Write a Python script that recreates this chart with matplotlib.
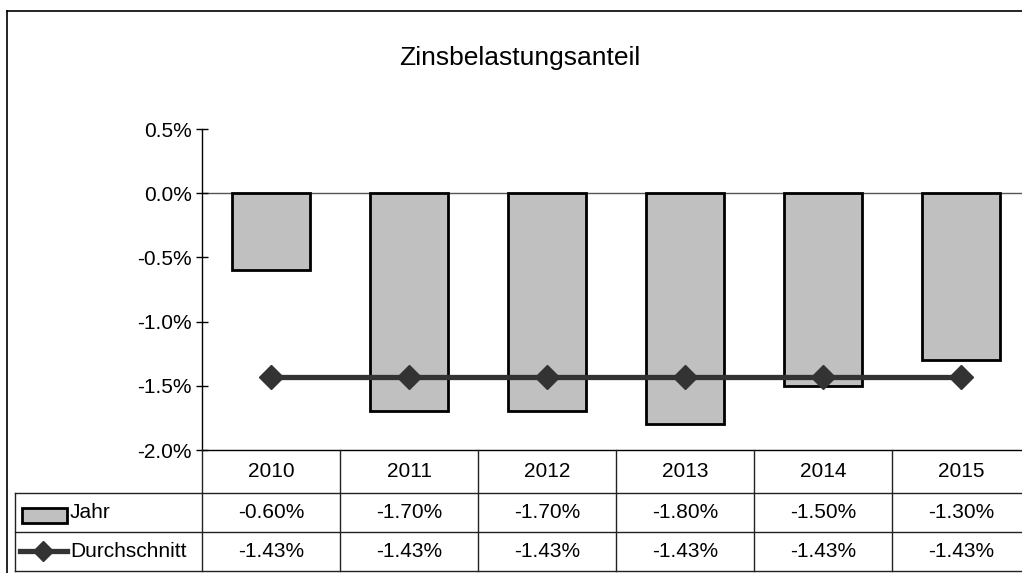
import matplotlib
matplotlib.use("Agg")
import matplotlib.pyplot as plt
from matplotlib.lines import Line2D
from matplotlib.patches import Rectangle
from matplotlib.ticker import FuncFormatter

plt.rcParams["font.family"] = ["Liberation Sans", "DejaVu Sans"]

# Daten
jahre = ["2010", "2011", "2012", "2013", "2014", "2015"]
jahr_werte = [-0.60, -1.70, -1.70, -1.80, -1.50, -1.30]       # in %
durchschnitt = [-1.43, -1.43, -1.43, -1.43, -1.43, -1.43]     # in %
y_ticks = [0.5, 0.0, -0.5, -1.0, -1.5, -2.0]

titel = "Zinsbelastungsanteil"
reihen = ["Jahr", "Durchschnitt"]

balken_farbe = "#c0c0c0"
linien_farbe = "#333333"

W, H = 1022, 573
fig = plt.figure(figsize=(W / 100, H / 100), dpi=100)

# Plotbereich (Pixel -> Figurenanteile)
ax_l, ax_r, ax_t, ax_b = 202, 1030, 129, 450
ax = fig.add_axes([ax_l / W, (H - ax_b) / H, (ax_r - ax_l) / W, (ax_b - ax_t) / H])

x = list(range(len(jahre)))
ax.bar(x, jahr_werte, width=0.56, color=balken_farbe, edgecolor="black", linewidth=2, zorder=2)
ax.plot(x, durchschnitt, color=linien_farbe, linewidth=3.8, marker="D", markersize=12,
        markerfacecolor=linien_farbe, markeredgecolor=linien_farbe, zorder=3)
ax.axhline(0, color="#555555", linewidth=1, zorder=1)

ax.set_xlim(-0.5, len(jahre) - 0.5)
ax.set_ylim(-2.0, 0.5)
ax.set_yticks(y_ticks)
ax.yaxis.set_major_formatter(FuncFormatter(lambda v, p: f"{v:.1f}%"))
ax.tick_params(axis="y", direction="inout", length=9, width=1, labelsize=15, pad=3)
ax.set_xticks([])
for s in ["top", "right"]:
    ax.spines[s].set_visible(False)
for s in ["left", "bottom"]:
    ax.spines[s].set_linewidth(1)
    ax.spines[s].set_color("black")

fig.text(520 / W, 1 - 58 / H, titel, ha="center", va="center", fontsize=19)

# Datentabelle unter dem Diagramm (Zeilen: Kopf, Jahr, Durchschnitt)
tab_t, tab_b = 450, 571
tab = fig.add_axes([ax_l / W, (H - tab_b) / H, (ax_r - ax_l) / W, (tab_b - tab_t) / H], sharex=ax)
tab.set_ylim(tab_b, tab_t)   # Pixelzeilen von oben
tab.axis("off")
z1, z2 = 493, 532
links = -0.5 - (ax_l - 15) / 138.0
lk = dict(color="#222222", linewidth=1, clip_on=False)
n = len(jahre)
for i in range(n + 1):
    tab.plot([i - 0.5, i - 0.5], [tab_t, tab_b], **lk)
for yy in (z1, z2, tab_b):
    tab.plot([links, n - 0.5], [yy, yy], **lk)
tab.plot([links, links], [z1, tab_b], **lk)

fs = 15
ym0, ym1, ym2 = (tab_t + z1) / 2, (z1 + z2) / 2, (z2 + tab_b) / 2
for i, j in enumerate(jahre):
    tab.text(i, ym0, j, ha="center", va="center", fontsize=fs)
    tab.text(i, ym1, f"{jahr_werte[i]:.2f}%", ha="center", va="center", fontsize=fs)
    tab.text(i, ym2, f"{durchschnitt[i]:.2f}%", ha="center", va="center", fontsize=fs)

# Legendensymbole in der Tabelle
px = 1 / 138.0
tab.add_patch(Rectangle((links + 7 * px, 508), 45 * px, 15, facecolor=balken_farbe,
                        edgecolor="black", linewidth=2, clip_on=False))
tab.text(links + 55 * px, ym1, reihen[0], ha="left", va="center", fontsize=fs)
tab.plot([links + 5 * px, links + 52 * px], [ym2, ym2], color=linien_farbe, linewidth=3.8, clip_on=False)
tab.plot([links + 28 * px], [ym2], marker="D", markersize=10, color=linien_farbe, clip_on=False)
tab.text(links + 55 * px, ym2, reihen[1], ha="left", va="center", fontsize=fs)

# Rahmen des Diagrammbereichs
fig.add_artist(Line2D([7 / W, 7 / W], [1 - 11 / H, -0.05], color="black", linewidth=1.2))
fig.add_artist(Line2D([7 / W, 1.05], [1 - 11 / H, 1 - 11 / H], color="black", linewidth=1.2))

fig.savefig("out.png", dpi=100)
